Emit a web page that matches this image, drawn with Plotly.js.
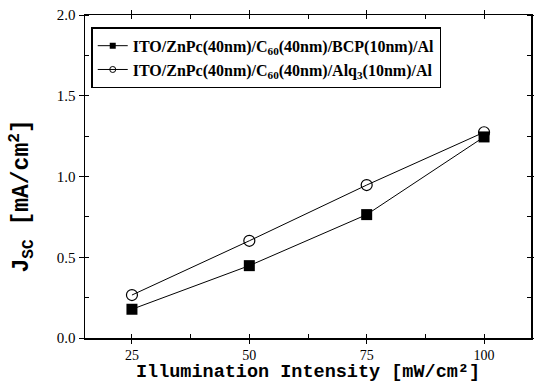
<!DOCTYPE html>
<html><head><meta charset="utf-8">
<script src="https://cdn.plot.ly/plotly-3.0.1.min.js"></script>
<style>body{margin:0;background:#fff}#c{width:534px;height:383px}</style>
</head><body><div id="c"></div>
<script>
const intensity = [25, 50, 75, 100];
const jscBCP = [0.178, 0.448, 0.764, 1.245];
const jscAlq3 = [0.266, 0.602, 0.947, 1.274];
const nameBCP = "<b>ITO/ZnPc(40nm)/C<sub>60</sub>(40nm)/BCP(10nm)/Al</b>";
const nameAlq3 = "<b>ITO/ZnPc(40nm)/C<sub>60</sub>(40nm)/Alq<sub>3</sub>(10nm)/Al</b>";
const xTicks = [25, 50, 75, 100];
const yTicks = [0, 0.5, 1.0, 1.5, 2.0];
const xTitle = '<b>Illumination Intensity [mW/cm²]</b>';
const yTitle = '<b>J<sub>SC</sub> [mA/cm<sup>2</sup>]</b>';

const traces = [
  {x: intensity, y: jscBCP, name: nameBCP, mode: 'lines+markers', type: 'scatter', showlegend: false,
   line: {color: '#000', width: 1}, marker: {symbol: 'square', size: 11, color: '#000'}},
  {x: intensity, y: jscAlq3, name: nameAlq3, mode: 'lines+markers', type: 'scatter', showlegend: false,
   line: {color: '#000', width: 1}, marker: {symbol: 'circle-open', size: 11, color: '#000', line: {width: 1.2}}},
  // legend entries (no data drawn)
  {x: [null], y: [null], name: nameBCP, mode: 'lines+markers', type: 'scatter',
   line: {color: '#000', width: 1}, marker: {symbol: 'square', size: 6, color: '#000'}},
  {x: [null], y: [null], name: nameAlq3, mode: 'lines+markers', type: 'scatter',
   line: {color: '#000', width: 1}, marker: {symbol: 'circle-open', size: 6, color: '#000', line: {width: 1}}}
];
const layout = {
  width: 534, height: 383,
  margin: {l: 85, r: 3, t: 15, b: 45},
  paper_bgcolor: '#fff', plot_bgcolor: '#fff',
  showlegend: true,
  legend: {x: 0.014, y: 0.962, xanchor: 'left', yanchor: 'top', bgcolor: '#fff',
    bordercolor: '#000', borderwidth: 1.5, font: {family: 'Liberation Serif', size: 16, color: '#000'},
    tracegroupgap: 0, itemwidth: 30},
  xaxis: {range: [15, 110], tickvals: xTicks, ticktext: xTicks.map(String),
    showgrid: false, zeroline: false, showline: true, linecolor: '#000', linewidth: 1.5,
    mirror: 'ticks', ticks: 'outside', ticklen: 4, tickcolor: '#000',
    minor: {dtick: 12.5, tick0: 25, ticks: 'inside', ticklen: 4, tickcolor: '#000', showgrid: false},
    tickfont: {family: 'Liberation Serif', size: 14, color: '#000'},
    title: {text: xTitle, standoff: 0,
      font: {family: 'Liberation Mono', size: 18.5, color: '#000'}}},
  yaxis: {range: [0, 2], tickvals: yTicks, ticktext: yTicks.map(v => v.toFixed(1)),
    showgrid: false, zeroline: false, showline: true, linecolor: '#000', linewidth: 1.5,
    mirror: 'ticks', ticks: 'outside', ticklen: 5, tickcolor: '#000',
    minor: {dtick: 0.25, tick0: 0, ticks: 'inside', ticklen: 4, tickcolor: '#000', showgrid: false},
    tickfont: {family: 'Liberation Serif', size: 15, color: '#000'}},
  annotations: [
    {text: yTitle, textangle: -90, xref: 'paper', yref: 'paper',
     x: -0.142, y: 0.44, xanchor: 'center', yanchor: 'middle', showarrow: false,
     font: {family: 'Liberation Mono', size: 23, color: '#000'}}
  ]
};
Plotly.newPlot('c', traces, layout, {staticPlot: true, displayModeBar: false});
</script></body></html>
